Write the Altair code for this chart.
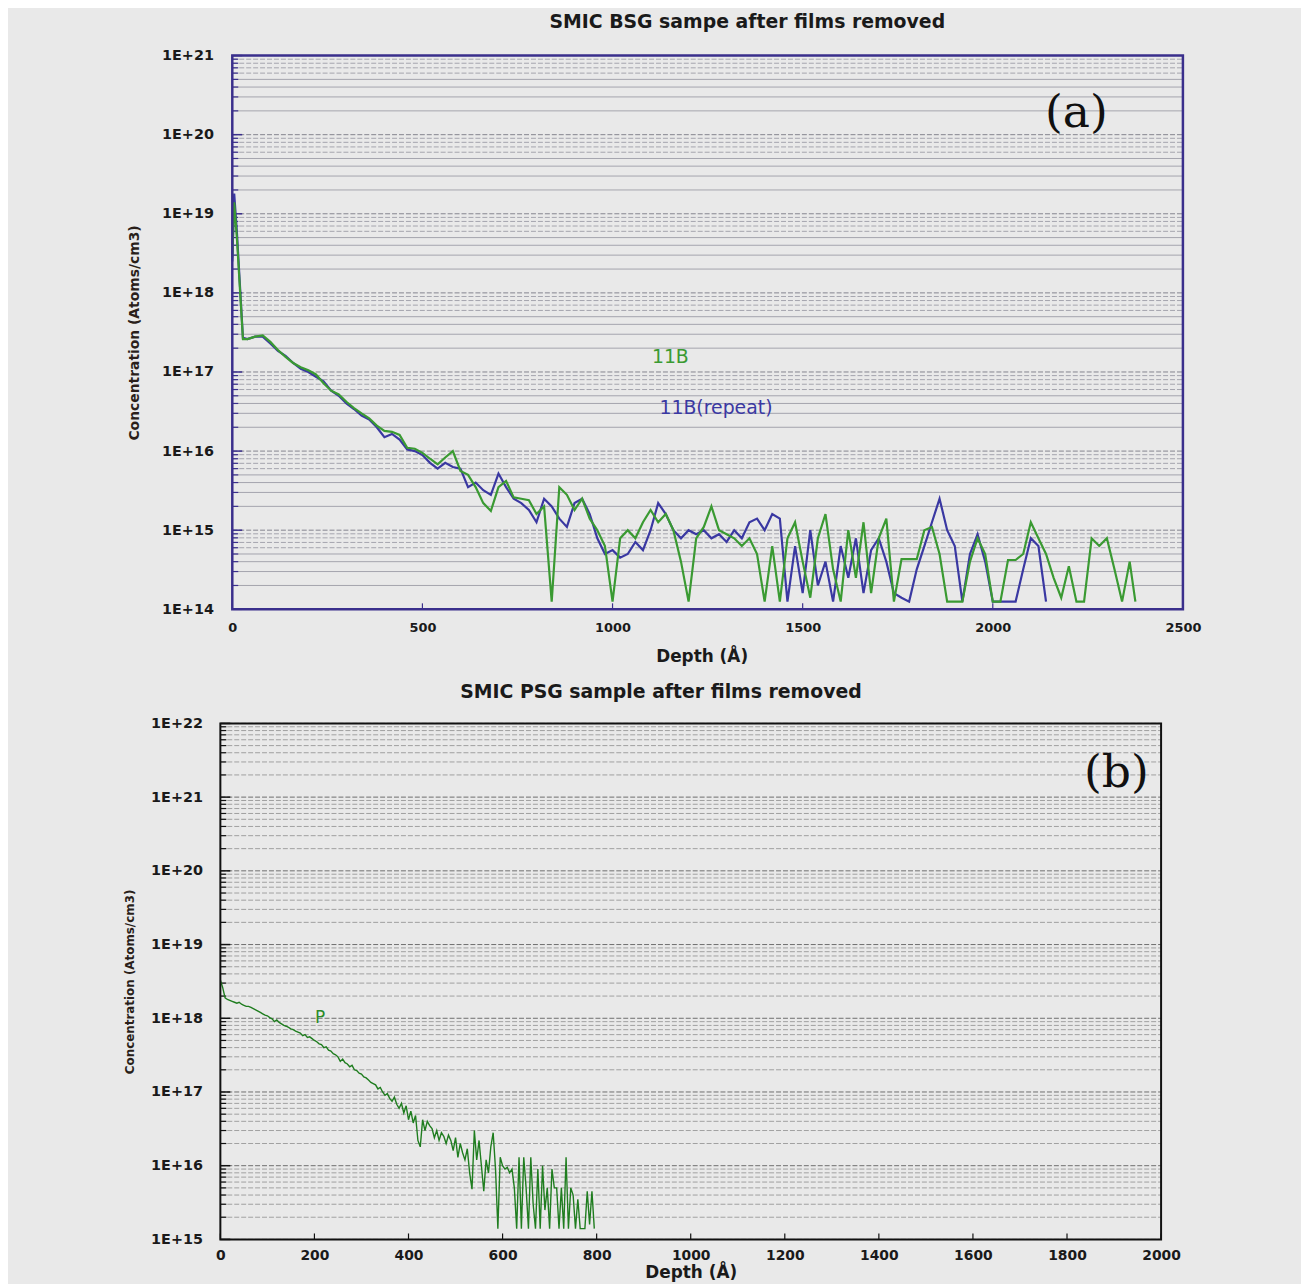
import altair as alt
import pandas as pd

FONT = "DejaVu Sans"
SERIF = "DejaVu Serif"

TITLE_A = "SMIC BSG sampe after films removed"
TITLE_B = "SMIC PSG sample after films removed"
Y_TITLE = "Concentration (Atoms/cm3)"
X_TITLE = "Depth (Å)"

# ---------------- panel (a): 11B and 11B(repeat) ----------------
b_depth = [0, 5, 12, 28] + list(range(40, 2361, 20)) + [2375]
b_conc = [
    2.8e18, 1.4e19, 5e18, 2.6e17,
    2.6e17, 2.8e17, 2.9e17, 2.4e17, 1.9e17, 1.55e17, 1.3e17, 1.15e17, 1.05e17, 9.3e16,
    7.2e16, 5.8e16, 5.2e16, 4.2e16, 3.5e16, 3.0e16, 2.6e16, 2.1e16, 1.8e16, 1.75e16,
    1.6e16, 1.1e16, 1.07e16, 9.5e15, 8e15, 6.8e15, 8.3e15, 1.0e16, 5.6e15, 5.0e15,
    3.5e15, 2.2e15, 1.75e15, 3.5e15, 4.2e15, 2.6e15, 2.5e15, 2.4e15, 1.6e15, 2.0e15,
    1.25e14, 3.5e15, 2.8e15, 1.8e15, 2.5e15, 1.4e15, 1.0e15, 6.3e14, 1.25e14, 7.9e14,
    1.0e15, 7.9e14, 1.26e15, 1.8e15, 1.26e15, 1.6e15, 1.0e15, 4.0e14, 1.25e14, 7.9e14,
    1.1e15, 2.0e15, 1.0e15, 8.9e14, 7.9e14, 6.3e14, 7.9e14, 5.0e14, 1.25e14, 6.3e14,
    1.25e14, 7.9e14, 1.26e15, 4.0e14, 1.4e14, 7.9e14, 1.6e15, 3.2e14, 1.25e14, 1.0e15,
    2.5e14, 1.26e15, 1.6e14, 7.9e14, 1.4e15, 1.25e14, 4.3e14, 4.3e14, 4.3e14, 1.0e15,
    1.1e15, 5.0e14, 1.25e14, 1.25e14, 1.25e14, 4.0e14, 7.9e14, 5.0e14, 1.25e14, 1.25e14,
    4.2e14, 4.2e14, 5.0e14, 1.26e15, 7.9e14, 5.0e14, 2.5e14, 1.4e14, 3.5e14, 1.25e14,
    1.25e14, 7.9e14, 6.3e14, 7.9e14, 3.2e14, 1.25e14, 4.0e14,
    1.25e14,
]

br_depth = [0, 5, 12, 28] + list(range(40, 2141, 20))
br_conc = [
    2.5e18, 1.8e19, 6e18, 2.7e17,
    2.6e17, 2.8e17, 2.8e17, 2.3e17, 1.85e17, 1.6e17, 1.3e17, 1.1e17, 1.0e17, 8.7e16,
    7.6e16, 5.8e16, 5.0e16, 4.0e16, 3.4e16, 2.8e16, 2.5e16, 2.0e16, 1.5e16, 1.65e16,
    1.4e16, 1.05e16, 1.0e16, 8.9e15, 7.1e15, 6.0e15, 7.1e15, 6.3e15, 6.0e15, 3.5e15,
    4.0e15, 3.2e15, 2.8e15, 5.2e15, 3.5e15, 2.5e15, 2.2e15, 1.8e15, 1.26e15, 2.5e15,
    2.0e15, 1.4e15, 1.1e15, 2.2e15, 2.5e15, 1.6e15, 7.9e14, 5.0e14, 5.6e14, 4.5e14,
    5.0e14, 7.1e14, 5.6e14, 1.0e15, 2.2e15, 1.6e15, 1.0e15, 7.9e14, 1.0e15, 8.9e14,
    1.0e15, 7.9e14, 8.9e14, 7.1e14, 1.0e15, 7.9e14, 1.26e15, 1.4e15, 1.0e15, 1.6e15,
    1.4e15, 1.25e14, 6.3e14, 1.6e14, 1.0e15, 2.0e14, 4.0e14, 1.25e14, 6.3e14, 2.5e14,
    7.9e14, 1.6e14, 5.6e14, 7.9e14, 4.0e14, 1.6e14, 1.4e14, 1.25e14, 3.2e14, 6.3e14,
    1.26e15, 2.5e15, 1.0e15, 6.3e14, 1.25e14, 5.0e14, 8.9e14, 4.0e14, 1.25e14, 1.25e14,
    1.25e14, 1.25e14, 3.2e14, 7.9e14, 6.3e14, 1.25e14,
]

a_label_text = ["11B", "11B(repeat)"]
a_label_depth = [1152, 1272]
a_label_conc = [1.55e17, 3.5e16]
a_tag_depth, a_tag_conc = [2220], [1.85e20]

a_x_ticks = [0, 500, 1000, 1500, 2000, 2500]
a_decades = [1e14, 1e15, 1e16, 1e17, 1e18, 1e19, 1e20, 1e21]

# ---------------- panel (b): P ----------------
p_depth = list(range(0, 800, 5))
p_conc = [
    3.3e18, 2.6e18, 1.9e18, 1.8e18, 1.75e18, 1.7e18, 1.65e18, 1.6e18, 1.65e18, 1.55e18,
    1.5e18, 1.45e18, 1.45e18, 1.4e18, 1.35e18, 1.3e18, 1.25e18, 1.2e18, 1.15e18, 1.1e18,
    1.08e18, 1.02e18, 9.8e17, 9.0e17, 9.5e17, 8.8e17, 8.4e17, 8.0e17, 7.8e17, 7.5e17,
    7.2e17, 7.0e17, 6.7e17, 6.5e17, 6.3e17, 5.8e17, 6.0e17, 5.5e17, 5.6e17, 5.3e17,
    5.0e17, 4.8e17, 4.5e17, 4.4e17, 4.0e17, 4.1e17, 3.7e17, 3.6e17, 3.3e17, 3.2e17,
    3.0e17, 2.6e17, 2.8e17, 2.5e17, 2.4e17, 2.2e17, 2.3e17, 2.0e17, 1.95e17, 1.8e17,
    1.75e17, 1.6e17, 1.55e17, 1.45e17, 1.35e17, 1.3e17, 1.25e17, 1.1e17, 1.15e17, 1.0e17,
    9.0e16, 9.5e16, 8.2e16, 7.5e16, 8.5e16, 6.8e16, 6.0e16, 7.0e16, 5.2e16, 6.5e16,
    4.2e16, 5.5e16, 3.8e16, 4.8e16, 2.2e16, 1.8e16, 4.2e16, 3.0e16, 4.0e16, 3.5e16,
    3.2e16, 2.4e16, 3.0e16, 2.2e16, 2.8e16, 2.5e16, 2.0e16, 2.6e16, 2.2e16, 1.6e16,
    2.4e16, 1.3e16, 2.0e16, 1.5e16, 1.2e16, 1.7e16, 8e15, 4.8e15, 3.0e16, 1.2e16,
    2.2e16, 1.0e16, 4.5e15, 1.2e16, 8e15, 1.8e16, 2.8e16, 9e15, 1.4e15, 1.3e16,
    1.0e16, 9e15, 9.5e15, 8e15, 9e15, 5e15, 1.4e15, 1.3e16, 1.4e15, 1.3e16,
    5e15, 1.4e15, 1.3e16, 3e15, 1.4e15, 9e15, 1.4e15, 1.0e16, 2.5e15, 5e15,
    1.4e15, 9e15, 5e15, 5e15, 1.4e15, 5e15, 1.4e15, 1.3e16, 1.4e15, 5e15,
    4e15, 1.4e15, 3.5e15, 1.4e15, 1.4e15, 1.4e15, 4.5e15, 1.6e15, 4.5e15, 1.4e15,
]
p_label_text = ["P"]
p_label_depth = [212]
p_label_conc = [1.0e18]
b_tag_depth, b_tag_conc = [1905], [2.1e21]

b_x_ticks = [0, 200, 400, 600, 800, 1000, 1200, 1400, 1600, 1800, 2000]
b_decades = [1e15, 1e16, 1e17, 1e18, 1e19, 1e20, 1e21, 1e22]

GREEN = "#3a9a32"
BLUE = "#3a38a2"
PGREEN = "#1f7d1f"
NAVY = "#3a2f8c"
BG = "#e9e9e9"
LABEL_EXPR = "'1E+' + round(log(datum.value) / LN10)"


def minors(decades, ms):
    return [m * d for d in decades[:-1] for m in ms]


def build_panel(xdom, xmax, decades, xticks, frame_color, frame_w, grid_dash_all,
                y_lab_pad, y_title_size, y_title_pad, title_text, title_dx, title_offset,
                xlab_size, x_lab_pad, x_title_pad):
    xs = alt.Scale(domain=xdom, nice=False, zero=False)
    ys = alt.Scale(type="log", domain=[decades[0], decades[-1]], nice=False)
    ax = alt.Axis(values=xticks, format="d", title=X_TITLE, ticks=False, domain=False,
                  grid=False, labelFlush=False, labelFont=FONT, labelFontSize=xlab_size,
                  labelFontWeight="bold", labelColor="#1a1a1a", labelPadding=x_lab_pad,
                  titleFont=FONT, titleFontSize=17, titleFontWeight="bold",
                  titleColor="#1a1a1a", titlePadding=x_title_pad)
    ay = alt.Axis(values=decades, labelExpr=LABEL_EXPR, title=Y_TITLE, ticks=False,
                  domain=False, grid=False, labelFont=FONT, labelFontSize=14.5,
                  labelFontWeight="bold", labelColor="#1a1a1a", labelPadding=y_lab_pad,
                  titleFont=FONT, titleFontSize=y_title_size, titleFontWeight="bold",
                  titleColor="#2a1f1a", titlePadding=y_title_pad)
    X = lambda f: alt.X(f, scale=xs, axis=ax)
    Y = lambda f: alt.Y(f, scale=ys, axis=ay)
    XD = lambda v: alt.XDatum(v, scale=xs, axis=ax)
    YD = lambda v: alt.YDatum(v, scale=ys, axis=ay)

    def yrule(vals, color, width, dash=None):
        kw = dict(color=color, strokeWidth=width)
        if dash:
            kw["strokeDash"] = dash
        return alt.Chart(pd.DataFrame({"v": vals})).mark_rule(**kw).encode(
            y=Y("v:Q"), x=XD(0), x2=alt.datum(xmax))

    back = []
    if grid_dash_all:
        back.append(yrule(minors(decades, [2, 3, 4, 5, 6, 7, 8, 9]), "#8e8e8e", 0.8, [5, 2]))
        back.append(yrule(decades, "#6e6e6e", 1.0, [5, 2]))
    else:
        back.append(yrule(minors(decades, [2, 3, 4, 5]), "#9c9ca6", 0.9))
        back.append(yrule(minors(decades, [6, 7, 8, 9]), "#9c9ca6", 0.9, [5, 2]))
        back.append(yrule(decades, "#84848e", 1.0, [5, 2]))

    # ticks pointing inwards from the left and bottom frame
    back.append(alt.Chart(pd.DataFrame({"v": minors(decades, range(2, 10))}))
                .mark_rule(color=frame_color, strokeWidth=1.2, x2Offset=6)
                .encode(y=Y("v:Q"), x=XD(0), x2=alt.datum(0)))
    back.append(alt.Chart(pd.DataFrame({"v": decades}))
                .mark_rule(color=frame_color, strokeWidth=1.5, x2Offset=10)
                .encode(y=Y("v:Q"), x=XD(0), x2=alt.datum(0)))
    back.append(alt.Chart(pd.DataFrame({"v": xticks}))
                .mark_rule(color=frame_color, strokeWidth=1.2, y2Offset=-6)
                .encode(x=X("v:Q"), y=YD(decades[0]), y2=alt.datum(decades[0])))
    frame = alt.Chart(pd.DataFrame({"k": [0]})).mark_rect(
        fillOpacity=0, stroke=frame_color, strokeWidth=frame_w).encode(
        x=XD(0), x2=alt.datum(xmax), y=YD(decades[0]), y2=alt.datum(decades[-1]))
    title = alt.TitleParams(text=title_text, font=FONT, fontSize=19, fontWeight="bold",
                            color="#1a1a1a", anchor="middle", frame="group", dx=title_dx,
                            offset=title_offset)
    return back, frame, X, Y, title


# ---- top panel (plot area starts 12 px left of depth 0, like the reference)
TW, TH = 970, 558
back, frame, X, Y, ttl = build_panel([-31.4, 2500], 2500, a_decades, a_x_ticks, NAVY, 2.5, False,
                                     7, 14, 20, TITLE_A, 46, 16, 13, 12, 15)
df_b = pd.DataFrame({"depth": b_depth, "conc": b_conc})
df_br = pd.DataFrame({"depth": br_depth, "conc": br_conc})
line_br = alt.Chart(df_br).mark_line(color=BLUE, strokeWidth=2.2, clip=True).encode(
    x=X("depth:Q"), y=Y("conc:Q"))
line_b = alt.Chart(df_b).mark_line(color=GREEN, strokeWidth=2.2, clip=True).encode(
    x=X("depth:Q"), y=Y("conc:Q"))
df_alab = pd.DataFrame({"label": a_label_text, "depth": a_label_depth, "conc": a_label_conc})
lab_a = alt.Chart(df_alab).mark_text(font=FONT, fontSize=19).encode(
    x=X("depth:Q"), y=Y("conc:Q"), text="label:N",
    color=alt.Color("label:N", scale=alt.Scale(domain=a_label_text, range=[GREEN, BLUE]), legend=None))
tag_a = alt.Chart(pd.DataFrame({"t": ["(a)"], "depth": a_tag_depth, "conc": a_tag_conc})).mark_text(
    font=SERIF, fontSize=46, color="#111111").encode(x=X("depth:Q"), y=Y("conc:Q"), text="t:N")
top = alt.layer(*back, line_br, line_b, lab_a, tag_a, frame).properties(
    width=TW, height=TH, title=ttl,
    view=alt.ViewBackground(fill=BG, strokeWidth=0))

# ---- bottom panel
BW, BH = 948, 520
back2, frame2, X2, Y2, ttl2 = build_panel([0, 2000], 2000, b_decades, b_x_ticks, "#111111", 2, True,
                                          18, 12, 14, TITLE_B, -30, 14, 14, 9, 2)
df_p = pd.DataFrame({"depth": p_depth, "conc": p_conc})
line_p = alt.Chart(df_p).mark_line(color=PGREEN, strokeWidth=1.4, clip=True).encode(
    x=X2("depth:Q"), y=Y2("conc:Q"))
df_plab = pd.DataFrame({"label": p_label_text, "depth": p_label_depth, "conc": p_label_conc})
lab_p = alt.Chart(df_plab).mark_text(font=FONT, fontSize=17, color="#2a8a2a").encode(
    x=X2("depth:Q"), y=Y2("conc:Q"), text="label:N")
tag_b = alt.Chart(pd.DataFrame({"t": ["(b)"], "depth": b_tag_depth, "conc": b_tag_conc})).mark_text(
    font=SERIF, fontSize=46, color="#111111").encode(x=X2("depth:Q"), y=Y2("conc:Q"), text="t:N")
bottom = alt.layer(*back2, line_p, lab_p, tag_b, frame2).properties(
    width=BW, height=BH, title=ttl2,
    view=alt.ViewBackground(fill=BG, strokeWidth=0))

chart = alt.vconcat(top, bottom, spacing=18).properties(
    background=BG,
    padding={"left": 116, "top": 0, "right": 100, "bottom": 0})

chart.save("out.html", embed_options={"renderer": "svg", "actions": False})
